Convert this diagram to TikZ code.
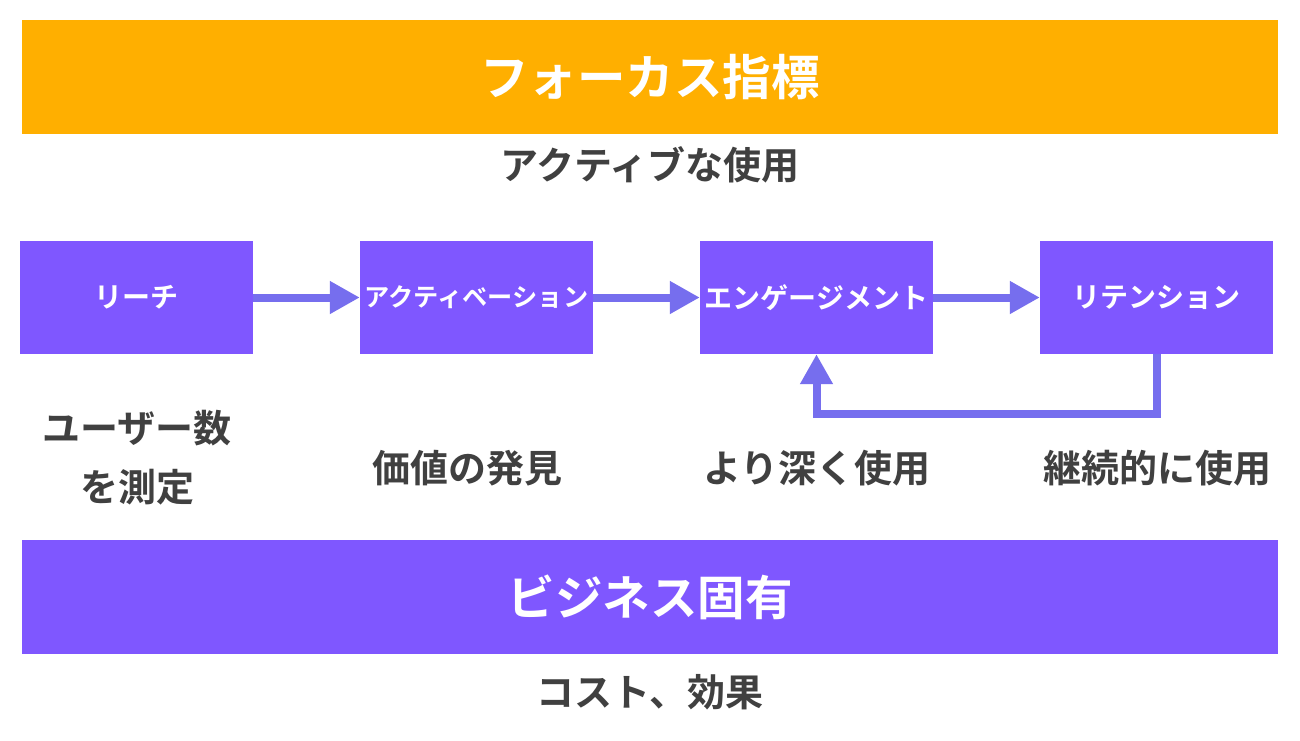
\documentclass[tikz,border=0pt]{standalone}
\usepackage{fontspec}
\setmainfont{Noto Sans CJK JP}[BoldFont={* Bold}]
\newfontfamily\jpb{Noto Sans CJK JP Bold}
\usetikzlibrary{arrows.meta}
\definecolor{orangebar}{HTML}{FFAF00}
\definecolor{purp}{HTML}{7F57FF}
\definecolor{arrc}{HTML}{766EEE}
\definecolor{txt}{HTML}{404040}
\tikzset{
  bar/.style={fill=#1, draw=none, minimum width=1256pt, minimum height=114pt, inner sep=0pt, text=white, font=\jpb\fontsize{48.5}{56}\selectfont},
  stage/.style={fill=purp, draw=none, minimum width=233pt, minimum height=113pt, inner sep=0pt, text=white, font=\jpb\fontsize{28}{32}\selectfont},
  lbl/.style={text=txt, inner sep=0pt, align=center, font=\jpb\fontsize{38}{59}\selectfont},
  arr/.style={draw=arrc, line width=8pt, -{Triangle[length=30pt,width=31pt]}, line join=miter}
}
\begin{document}
\begin{tikzpicture}[x=1pt,y=-1pt]
\useasboundingbox (0,0) rectangle (1300,740);
\fill[white] (0,0) rectangle (1300,740);
\node[bar=orangebar] (focus) at (650,77) {フォーカス指標};
\node[lbl] (active) at (650,165) {アクティブな使用};
\node[stage] (reach) at (136.5,297.5) {リーチ};
\node[stage, font=\jpb\fontsize{25.2}{30}\selectfont] (activ) at (476.5,297.5) {アクティベーション};
\node[stage] (eng) at (816.5,297.5) {エンゲージメント};
\node[stage] (ret) at (1156.5,297.5) {リテンション};
\draw[arr] (reach.east) -- (activ.west);
\draw[arr] (activ.east) -- (eng.west);
\draw[arr] (eng.east) -- (ret.west);
\draw[arr] (ret.south) -- ++(0,60) -| (eng.south);
\node[lbl] (l1) at (137,458) {ユーザー数\\を測定};
\node[lbl] (l2) at (467,468) {価値の発見};
\node[lbl] (l3) at (817,468) {より深く使用};
\node[lbl] (l4) at (1157,468) {継続的に使用};
\node[bar=purp, font=\jpb\fontsize{47.5}{56}\selectfont] (biz) at (650,597) {ビジネス固有};
\node[lbl] (cost) at (650,692) {コスト、効果};
\end{tikzpicture}
\end{document}
